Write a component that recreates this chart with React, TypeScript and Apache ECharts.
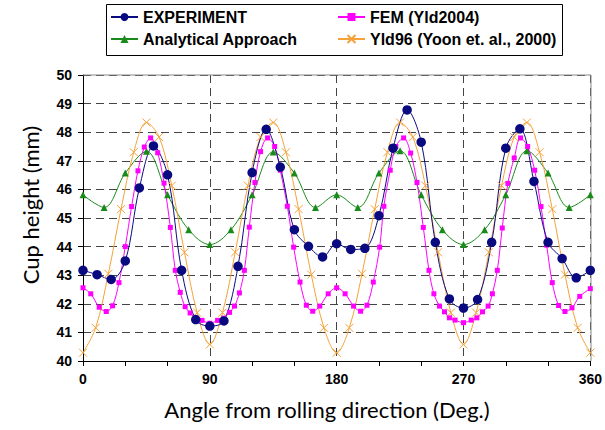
import React, { useEffect, useRef } from "react";
import * as echarts from "echarts";

// ---------- data ----------
const expAngles = [0, 10, 20, 30, 40, 50, 60, 70, 80, 90, 100, 110, 120, 130, 140, 150, 160, 170, 180, 190, 200, 210, 220, 230, 240, 250, 260, 270, 280, 290, 300, 310, 320, 330, 340, 350, 360];
const expHeights = [43.17, 43.02, 42.85, 43.5, 46.05, 47.52, 46.51, 43.17, 41.45, 41.22, 41.4, 43.31, 46.59, 48.1, 46.78, 44.59, 44.01, 43.64, 44.1, 43.9, 43.94, 45.08, 47.44, 48.78, 47.65, 44.15, 42.17, 41.85, 42.15, 44.15, 47.44, 48.12, 46.28, 44.15, 43.58, 42.91, 43.17];

const femAngles = [0, 5.5, 11.5, 16.5, 21, 25.5, 30, 34.5, 39, 43.5, 48, 53, 57.5, 62, 65.5, 69, 72.5, 76, 80, 84.5, 90, 95.5, 100, 104, 107.5, 111, 114.5, 118, 122, 126, 131, 136, 140, 145, 149.5, 154, 158.5, 163, 168, 174, 180, 186, 192, 197, 201.5, 206, 210.5, 213.5, 218, 222, 227.5, 232.5, 237, 241.5, 245.5, 249, 253, 256.5, 260, 264, 270, 275.5, 279.5, 283.5, 287.5, 290.5, 294, 297.5, 301.5, 306, 310.5, 315.5, 320.5, 325, 329, 333, 337.5, 342, 347, 352.5, 360];
const femHeights = [42.56, 42.35, 41.88, 41.73, 41.93, 42.74, 44.0, 45.4, 46.65, 47.48, 47.8, 47.28, 46.22, 44.67, 43.17, 42.4, 41.9, 41.68, 41.5, 41.42, 41.32, 41.42, 41.5, 41.7, 41.92, 42.38, 43.17, 44.68, 46.24, 47.32, 47.8, 47.5, 46.67, 45.41, 43.98, 42.76, 41.95, 41.74, 41.92, 42.35, 42.56, 42.35, 41.92, 41.74, 41.95, 42.76, 43.98, 45.41, 46.67, 47.5, 47.8, 47.27, 46.24, 44.67, 43.17, 42.35, 41.92, 41.72, 41.51, 41.43, 41.34, 41.43, 41.51, 41.72, 41.92, 42.35, 43.17, 44.65, 46.21, 47.1, 47.8, 47.5, 46.67, 45.4, 44.05, 42.74, 41.94, 41.73, 41.86, 42.26, 42.53];

const anaAngles = [0, 15, 30, 45, 60, 75, 90, 105, 120, 135, 150, 165, 180, 195, 210, 225, 240, 255, 270, 285, 300, 315, 330, 345, 360];
const anaHeights = [45.81, 45.37, 46.57, 47.33, 45.81, 44.59, 44.07, 44.59, 45.81, 47.31, 46.57, 45.37, 45.81, 45.37, 46.57, 47.35, 45.81, 44.59, 44.07, 44.59, 45.81, 47.35, 46.57, 45.37, 45.81];

const yldAngles = [0, 9, 18, 27, 36, 45, 54, 63, 72, 81, 90, 99, 108, 117, 126, 135, 144, 153, 162, 171, 180, 189, 198, 207, 216, 225, 234, 243, 252, 261, 270, 279, 288, 297, 306, 315, 324, 333, 342, 351, 360];
const yldHeights = [40.29, 41.16, 43.05, 45.31, 47.3, 48.34, 47.83, 46.13, 43.8, 41.69, 40.58, 41.69, 43.8, 46.13, 47.83, 48.34, 47.3, 45.31, 43.02, 41.16, 40.29, 41.16, 43.05, 45.31, 47.3, 48.34, 47.83, 46.13, 43.8, 41.69, 40.58, 41.69, 43.8, 46.13, 47.83, 48.34, 47.3, 45.31, 43.02, 41.16, 40.29];

const seriesNames = ["EXPERIMENT", "FEM (Yld2004)", "Analytical Approach", "Yld96 (Yoon et. al., 2000)"];
const xTitle = "Angle from rolling direction (Deg.)";
const yTitle = "Cup height (mm)";
const xMin = 0, xMax = 360, xLabelStep = 90, xTickStep = 30;
const yMin = 40, yMax = 50, yStep = 1;

const zip = (xs: number[], ys: number[]) => xs.map((x, i) => [x, ys[i]]);

const NAVY = "#0a0a80";
const MAGENTA = "#ff00ff";
const GREEN = "#1a8a1a";
const ORANGE = "#f5a23a";

const G = { left: 83, top: 75, width: 508, height: 286 };

export default function App() {
  const ref = useRef<HTMLDivElement>(null);
  useEffect(() => {
    document.body.style.margin = "0";
    const chart = echarts.init(ref.current!, undefined, { renderer: "svg" });
    const labelFont = { fontFamily: "Liberation Sans, Arial, sans-serif", fontWeight: "bold" as const, fontSize: 14, color: "#000" };
    const legendText = { fontFamily: "Liberation Sans, Arial, sans-serif", fontWeight: "bold" as const, fontSize: 16, color: "#000" };
    const dashed = { show: true, lineStyle: { type: [8, 5] as any, color: "#444", width: 1 } };
    chart.setOption({
      animation: false,
      backgroundColor: "#fff",
      grid: { left: G.left, top: G.top, width: G.width, height: G.height, show: false },
      legend: [
        {
          orient: "vertical", left: 110, top: 9, itemWidth: 27, itemHeight: 10, itemGap: 6,
          selectedMode: false, textStyle: legendText, padding: 0,
          data: [seriesNames[0], seriesNames[2]],
        },
        {
          orient: "vertical", left: 337, top: 9, itemWidth: 27, itemHeight: 10, itemGap: 6,
          selectedMode: false, textStyle: legendText, padding: 0,
          data: [seriesNames[1], seriesNames[3]],
        },
      ],
      xAxis: [
        {
          type: "value", min: xMin, max: xMax, interval: xLabelStep, position: "bottom",
          axisLine: { show: true, lineStyle: { color: "#000", width: 1 } },
          axisTick: { show: true, length: 5, lineStyle: { color: "#000" } },
          axisLabel: { ...labelFont, margin: 11 },
          splitLine: dashed,
        },
        {
          type: "value", min: xMin, max: xMax, interval: xTickStep, position: "bottom", offset: 0,
          axisLine: { show: false },
          axisTick: { show: true, length: 5, lineStyle: { color: "#000" } },
          axisLabel: { show: false },
          splitLine: { show: false },
        },
      ],
      yAxis: {
        type: "value", min: yMin, max: yMax, interval: yStep,
        axisLine: { show: true, lineStyle: { color: "#000", width: 1 } },
        axisTick: { show: true, length: 5, lineStyle: { color: "#000" } },
        axisLabel: { ...labelFont, margin: 11 },
        splitLine: dashed,
      },
      graphic: [
        { type: "line", z: 1, shape: { x1: G.left, y1: G.top, x2: G.left + G.width, y2: G.top }, style: { stroke: "#888", lineWidth: 1 } },
        { type: "line", z: 1, shape: { x1: G.left + G.width, y1: G.top, x2: G.left + G.width, y2: G.top + G.height }, style: { stroke: "#888", lineWidth: 1 } },
        { type: "rect", z: 0, shape: { x: 106.5, y: 4.5, width: 456, height: 51 }, style: { fill: "none", stroke: "#000", lineWidth: 1 } },
        {
          type: "text", x: 327, y: 409,
          style: { text: xTitle, font: "22px Lato, sans-serif", fill: "#000", textAlign: "center", textVerticalAlign: "middle" },
        },
        {
          type: "text", x: 30, y: 205, rotation: Math.PI / 2,
          style: { text: yTitle, font: "22px Lato, sans-serif", fill: "#000", textAlign: "center", textVerticalAlign: "middle" },
        },
      ],
      series: [
        {
          name: seriesNames[2], type: "line", data: zip(anaAngles, anaHeights), smooth: 0.35,
          symbol: "triangle", symbolSize: 7, lineStyle: { color: GREEN, width: 1 }, itemStyle: { color: GREEN },
        },
        {
          name: seriesNames[3], type: "line", data: zip(yldAngles, yldHeights), smooth: 0.35,
          symbol: "path://M0,0L10,10M10,0L0,10", symbolSize: 8,
          lineStyle: { color: ORANGE, width: 1 }, itemStyle: { color: "none", borderColor: ORANGE, borderWidth: 1 },
        },
        {
          name: seriesNames[1], type: "line", data: zip(femAngles, femHeights), smooth: 0.35,
          symbol: "rect", symbolSize: 5, lineStyle: { color: MAGENTA, width: 1 }, itemStyle: { color: MAGENTA },
        },
        {
          name: seriesNames[0], type: "line", data: zip(expAngles, expHeights), smooth: 0.35,
          symbol: "circle", symbolSize: 9.5, lineStyle: { color: NAVY, width: 1 }, itemStyle: { color: NAVY },
        },
      ],
    });
    return () => chart.dispose();
  }, []);
  return <div ref={ref} style={{ width: 605, height: 430 }} />;
}
